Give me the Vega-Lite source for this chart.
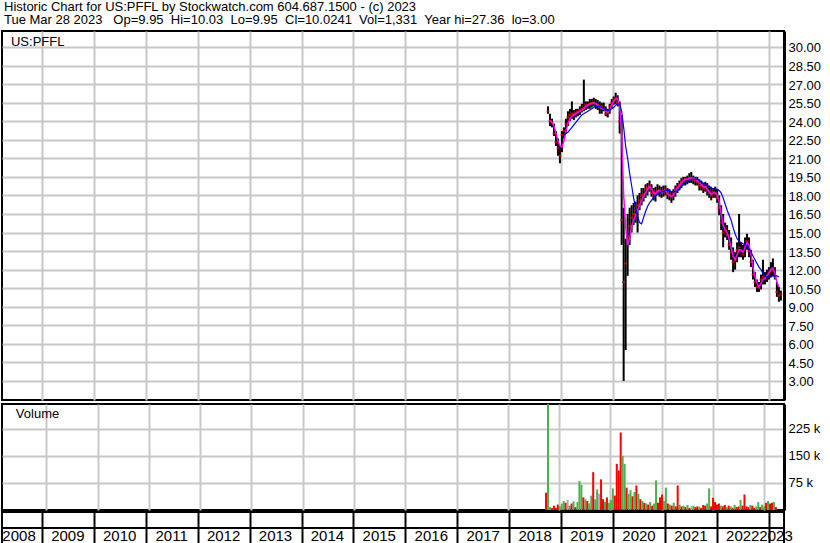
{
 "$schema": "https://vega.github.io/schema/vega-lite/v6.json",
 "padding": 0,
 "background": "white",
 "title": {"text": ["Historic Chart for US:PFFL by Stockwatch.com 604.687.1500 - (c) 2023", "Tue Mar 28 2023\u00a0\u00a0 Op=9.95\u00a0 Hi=10.03\u00a0 Lo=9.95\u00a0 Cl=10.0241\u00a0 Vol=1,331\u00a0 Year hi=27.36\u00a0 lo=3.00"], "anchor": "start", "frame": "group", "font": "Liberation Sans", "fontSize": 13, "fontWeight": "normal", "lineHeight": 13.5, "baseline": "top", "offset": 3, "dx": 2, "color": "black"},
 "datasets": {
  "px": [
   {"d":"2018-10-01","h":25.2,"l":24.6,"c":24.8,"v":48000,"k":"d"},
   {"d":"2018-10-15","h":24.6,"l":23.6,"c":24.0,"m":24.1,"v":330000,"k":"u"},
   {"d":"2018-10-29","h":24.2,"l":23.5,"c":23.9,"m":23.9,"v":8000,"k":"u"},
   {"d":"2018-11-12","h":23.8,"l":22.8,"c":23.0,"m":23.6,"v":5000,"k":"d"},
   {"d":"2018-11-26","h":23.2,"l":22.0,"c":22.3,"m":23.0,"v":12000,"k":"d"},
   {"d":"2018-12-10","h":22.6,"l":21.2,"c":21.8,"m":22.4,"v":6000,"k":"d"},
   {"d":"2018-12-24","h":22.0,"l":20.6,"c":21.2,"m":22.0,"v":15000,"k":"d"},
   {"d":"2019-01-07","h":23.2,"l":21.5,"c":22.9,"m":21.9,"v":10000,"k":"u"},
   {"d":"2019-01-21","h":23.5,"l":22.6,"c":23.2,"m":22.4,"b":22.9,"v":18000,"k":"u"},
   {"d":"2019-02-04","h":24.2,"l":23.0,"c":23.8,"m":23.2,"b":23.0,"v":25000,"k":"u"},
   {"d":"2019-02-18","h":24.8,"l":23.6,"c":24.3,"m":23.8,"b":23.1,"v":20000,"k":"d"},
   {"d":"2019-03-04","h":25.0,"l":24.0,"c":24.5,"m":24.2,"b":23.3,"v":28000,"k":"n"},
   {"d":"2019-03-18","h":25.6,"l":24.2,"c":24.6,"m":24.4,"b":23.5,"v":12000,"k":"u"},
   {"d":"2019-04-01","h":24.9,"l":24.1,"c":24.6,"m":24.5,"b":23.7,"v":18000,"k":"d"},
   {"d":"2019-04-15","h":25.0,"l":24.3,"c":24.7,"m":24.6,"b":23.9,"v":24000,"k":"u"},
   {"d":"2019-04-29","h":25.0,"l":24.4,"c":24.8,"m":24.7,"b":24.1,"v":8000,"k":"d"},
   {"d":"2019-05-13","h":25.2,"l":24.5,"c":24.9,"m":24.8,"b":24.3,"v":22000,"k":"u"},
   {"d":"2019-05-27","h":25.4,"l":24.7,"c":25.0,"m":24.9,"b":24.5,"v":80000,"k":"u"},
   {"d":"2019-06-10","h":27.36,"l":24.8,"c":25.1,"m":25.0,"b":24.6,"v":70000,"k":"u"},
   {"d":"2019-06-24","h":25.6,"l":24.9,"c":25.3,"m":25.2,"b":24.7,"v":35000,"k":"d"},
   {"d":"2019-07-08","h":25.6,"l":25.0,"c":25.3,"m":25.3,"b":24.8,"v":30000,"k":"u"},
   {"d":"2019-07-22","h":25.8,"l":25.0,"c":25.4,"m":25.4,"b":24.9,"v":25000,"k":"d"},
   {"d":"2019-08-05","h":25.8,"l":25.1,"c":25.5,"m":25.4,"b":25.0,"v":18000,"k":"u"},
   {"d":"2019-08-19","h":25.9,"l":25.2,"c":25.5,"m":25.5,"b":25.1,"v":40000,"k":"u"},
   {"d":"2019-09-02","h":25.8,"l":25.0,"c":25.4,"m":25.4,"b":25.2,"v":105000,"k":"d"},
   {"d":"2019-09-16","h":25.7,"l":24.9,"c":25.3,"m":25.3,"b":25.2,"v":30000,"k":"u"},
   {"d":"2019-09-30","h":25.6,"l":24.6,"c":25.1,"m":25.2,"b":25.2,"v":57000,"k":"u"},
   {"d":"2019-10-14","h":25.5,"l":24.6,"c":25.2,"m":25.0,"b":25.1,"v":45000,"k":"n"},
   {"d":"2019-10-28","h":25.5,"l":24.8,"c":25.0,"m":25.0,"b":25.0,"v":85000,"k":"d"},
   {"d":"2019-11-11","h":25.2,"l":24.4,"c":24.6,"m":24.8,"b":24.9,"v":30000,"k":"d"},
   {"d":"2019-11-25","h":25.0,"l":24.3,"c":24.7,"m":24.7,"b":24.9,"v":22000,"k":"u"},
   {"d":"2019-12-09","h":25.4,"l":24.6,"c":25.2,"m":24.9,"b":24.9,"v":35000,"k":"d"},
   {"d":"2019-12-23","h":25.8,"l":25.0,"c":25.5,"m":25.3,"b":25.0,"v":20000,"k":"u"},
   {"d":"2020-01-06","h":26.0,"l":25.3,"c":25.7,"m":25.6,"b":25.1,"v":28000,"k":"u"},
   {"d":"2020-01-20","h":26.3,"l":25.4,"c":25.9,"m":25.8,"b":25.3,"v":60000,"k":"u"},
   {"d":"2020-02-03","h":26.1,"l":25.2,"c":25.5,"m":25.8,"b":25.4,"v":40000,"k":"d"},
   {"d":"2020-02-17","h":25.6,"l":23.0,"c":24.0,"m":25.2,"b":25.4,"v":128000,"k":"d"},
   {"d":"2020-03-02","h":24.5,"l":14.0,"c":16.0,"m":23.0,"b":24.8,"v":110000,"k":"d"},
   {"d":"2020-03-16","h":17.0,"l":3.0,"c":11.0,"m":18.0,"b":23.5,"v":215000,"k":"d"},
   {"d":"2020-03-30","h":14.5,"l":5.5,"c":12.5,"m":15.5,"b":22.0,"v":150000,"k":"u"},
   {"d":"2020-04-13","h":16.5,"l":11.5,"c":14.5,"m":14.0,"b":21.0,"v":128000,"k":"u"},
   {"d":"2020-04-27","h":17.0,"l":14.0,"c":15.5,"m":14.5,"b":19.8,"v":62000,"k":"d"},
   {"d":"2020-05-11","h":17.2,"l":15.0,"c":16.2,"m":15.5,"b":18.8,"v":45000,"k":"u"},
   {"d":"2020-05-25","h":17.4,"l":15.6,"c":16.5,"m":16.0,"b":17.8,"v":55000,"k":"u"},
   {"d":"2020-06-08","h":17.5,"l":15.8,"c":16.8,"m":16.4,"b":17.0,"v":38000,"k":"d"},
   {"d":"2020-06-22","h":18.0,"l":15.0,"c":17.2,"m":16.8,"b":16.3,"v":50000,"k":"u"},
   {"d":"2020-07-06","h":18.2,"l":16.8,"c":17.6,"m":17.2,"b":15.8,"v":68000,"k":"d"},
   {"d":"2020-07-20","h":18.6,"l":17.2,"c":18.0,"m":17.6,"b":15.7,"v":45000,"k":"u"},
   {"d":"2020-08-03","h":18.6,"l":17.5,"c":18.1,"m":17.9,"b":16.2,"v":30000,"k":"d"},
   {"d":"2020-08-17","h":18.9,"l":17.8,"c":18.5,"m":18.2,"b":16.7,"v":25000,"k":"u"},
   {"d":"2020-08-31","h":19.0,"l":18.0,"c":18.6,"m":18.5,"b":17.1,"v":20000,"k":"d"},
   {"d":"2020-09-14","h":19.2,"l":18.3,"c":18.8,"m":18.7,"b":17.4,"v":18000,"k":"u"},
   {"d":"2020-09-28","h":18.9,"l":17.9,"c":18.2,"m":18.5,"b":17.6,"v":15000,"k":"d"},
   {"d":"2020-10-12","h":18.6,"l":17.6,"c":18.0,"m":18.2,"b":17.8,"v":22000,"k":"u"},
   {"d":"2020-10-26","h":18.7,"l":17.5,"c":18.2,"m":18.1,"b":18.0,"v":12000,"k":"d"},
   {"d":"2020-11-09","h":18.9,"l":18.0,"c":18.4,"m":18.3,"b":18.1,"v":18000,"k":"u"},
   {"d":"2020-11-23","h":18.8,"l":17.9,"c":18.3,"m":18.4,"b":18.2,"v":82000,"k":"u"},
   {"d":"2020-12-07","h":18.7,"l":17.8,"c":18.2,"m":18.3,"b":18.3,"v":20000,"k":"d"},
   {"d":"2020-12-21","h":18.8,"l":17.9,"c":18.4,"m":18.3,"b":18.3,"v":35000,"k":"d"},
   {"d":"2021-01-04","h":18.8,"l":18.0,"c":18.5,"m":18.4,"b":18.4,"v":43000,"k":"d"},
   {"d":"2021-01-18","h":18.6,"l":17.7,"c":18.1,"m":18.2,"b":18.4,"v":25000,"k":"u"},
   {"d":"2021-02-01","h":18.5,"l":17.6,"c":18.0,"m":18.0,"b":18.4,"v":62000,"k":"u"},
   {"d":"2021-02-15","h":18.3,"l":17.4,"c":17.9,"m":17.9,"b":18.3,"v":18000,"k":"d"},
   {"d":"2021-03-01","h":18.5,"l":17.6,"c":18.1,"m":18.0,"b":18.3,"v":15000,"k":"u"},
   {"d":"2021-03-15","h":18.8,"l":17.9,"c":18.5,"m":18.3,"b":18.3,"v":12000,"k":"d"},
   {"d":"2021-03-29","h":19.0,"l":18.2,"c":18.7,"m":18.6,"b":18.4,"v":20000,"k":"u"},
   {"d":"2021-04-12","h":19.2,"l":18.4,"c":18.9,"m":18.8,"b":18.5,"v":10000,"k":"d"},
   {"d":"2021-04-26","h":19.4,"l":18.6,"c":19.1,"m":19.0,"b":18.7,"v":68000,"k":"d"},
   {"d":"2021-05-10","h":19.5,"l":18.8,"c":19.2,"m":19.2,"b":18.9,"v":15000,"k":"u"},
   {"d":"2021-05-24","h":19.5,"l":18.8,"c":19.3,"m":19.3,"b":19.0,"v":10000,"k":"d"},
   {"d":"2021-06-07","h":19.6,"l":18.9,"c":19.3,"m":19.3,"b":19.1,"v":12000,"k":"u"},
   {"d":"2021-06-21","h":19.8,"l":19.0,"c":19.4,"m":19.4,"b":19.2,"v":8000,"k":"d"},
   {"d":"2021-07-05","h":19.9,"l":19.0,"c":19.4,"m":19.4,"b":19.3,"v":14000,"k":"u"},
   {"d":"2021-07-19","h":19.6,"l":18.9,"c":19.3,"m":19.4,"b":19.3,"v":6000,"k":"d"},
   {"d":"2021-08-02","h":19.5,"l":18.8,"c":19.2,"m":19.3,"b":19.3,"v":10000,"k":"n"},
   {"d":"2021-08-16","h":19.5,"l":18.8,"c":19.1,"m":19.2,"b":19.3,"v":12000,"k":"u"},
   {"d":"2021-08-30","h":19.3,"l":18.4,"c":18.8,"m":19.0,"b":19.2,"v":8000,"k":"d"},
   {"d":"2021-09-13","h":19.2,"l":18.4,"c":18.8,"m":18.9,"b":19.1,"v":10000,"k":"d"},
   {"d":"2021-09-27","h":19.0,"l":18.2,"c":18.6,"m":18.7,"b":19.0,"v":9000,"k":"u"},
   {"d":"2021-10-11","h":19.1,"l":18.3,"c":18.7,"m":18.7,"b":18.9,"v":6000,"k":"d"},
   {"d":"2021-10-25","h":19.0,"l":18.0,"c":18.4,"m":18.5,"b":18.8,"v":14000,"k":"d"},
   {"d":"2021-11-08","h":18.8,"l":17.8,"c":18.2,"m":18.3,"b":18.7,"v":12000,"k":"d"},
   {"d":"2021-11-22","h":18.7,"l":17.6,"c":18.0,"m":18.1,"b":18.6,"v":18000,"k":"u"},
   {"d":"2021-12-06","h":18.6,"l":17.8,"c":18.3,"m":18.2,"b":18.5,"v":60000,"k":"u"},
   {"d":"2021-12-20","h":18.7,"l":17.8,"c":18.2,"m":18.2,"b":18.5,"v":10000,"k":"d"},
   {"d":"2022-01-03","h":18.5,"l":17.4,"c":17.8,"m":18.0,"b":18.5,"v":34000,"k":"d"},
   {"d":"2022-01-17","h":18.0,"l":16.4,"c":17.0,"m":17.5,"b":18.4,"v":22000,"k":"d"},
   {"d":"2022-01-31","h":17.2,"l":15.2,"c":15.8,"m":16.5,"b":18.2,"v":15000,"k":"d"},
   {"d":"2022-02-14","h":16.5,"l":13.8,"c":15.0,"m":15.6,"b":17.8,"v":18000,"k":"d"},
   {"d":"2022-02-28","h":15.8,"l":14.6,"c":15.2,"m":15.2,"b":17.3,"v":12000,"k":"u"},
   {"d":"2022-03-14","h":15.6,"l":14.4,"c":14.8,"m":15.0,"b":16.8,"v":10000,"k":"d"},
   {"d":"2022-03-28","h":15.2,"l":13.6,"c":14.0,"m":14.5,"b":16.4,"v":14000,"k":"d"},
   {"d":"2022-04-11","h":14.6,"l":12.8,"c":13.4,"m":13.8,"b":16.0,"v":8000,"k":"u"},
   {"d":"2022-04-25","h":13.8,"l":11.8,"c":12.6,"m":13.1,"b":15.4,"v":12000,"k":"d"},
   {"d":"2022-05-09","h":13.4,"l":12.0,"c":12.8,"m":12.8,"b":14.9,"v":10000,"k":"u"},
   {"d":"2022-05-23","h":14.2,"l":12.6,"c":13.6,"m":13.2,"b":14.5,"v":6000,"k":"d"},
   {"d":"2022-06-06","h":16.5,"l":13.0,"c":13.8,"m":13.6,"b":14.3,"v":14000,"k":"u"},
   {"d":"2022-06-20","h":14.2,"l":13.0,"c":13.5,"m":13.6,"b":14.2,"v":8000,"k":"d"},
   {"d":"2022-07-04","h":14.0,"l":12.8,"c":13.2,"m":13.4,"b":14.1,"v":10000,"k":"d"},
   {"d":"2022-07-18","h":14.6,"l":13.0,"c":14.0,"m":13.8,"b":14.0,"v":28000,"k":"u"},
   {"d":"2022-08-01","h":14.9,"l":13.6,"c":14.3,"m":14.2,"b":13.9,"v":12000,"k":"d"},
   {"d":"2022-08-15","h":14.6,"l":13.0,"c":13.5,"m":14.0,"b":13.7,"v":43000,"k":"d"},
   {"d":"2022-08-29","h":13.6,"l":12.2,"c":12.6,"m":13.2,"b":13.4,"v":10000,"k":"d"},
   {"d":"2022-09-12","h":12.8,"l":11.2,"c":11.6,"m":12.2,"b":13.1,"v":8000,"k":"d"},
   {"d":"2022-09-26","h":11.8,"l":10.6,"c":11.0,"m":11.4,"b":12.8,"v":14000,"k":"u"},
   {"d":"2022-10-10","h":11.2,"l":10.2,"c":10.6,"m":10.9,"b":12.5,"v":12000,"k":"d"},
   {"d":"2022-10-24","h":11.0,"l":10.2,"c":10.5,"m":10.6,"b":12.2,"v":6000,"k":"d"},
   {"d":"2022-11-07","h":11.6,"l":10.4,"c":11.2,"m":10.9,"b":12.0,"v":10000,"k":"u"},
   {"d":"2022-11-21","h":12.8,"l":10.8,"c":11.4,"m":11.2,"b":11.7,"v":22000,"k":"u"},
   {"d":"2022-12-05","h":11.8,"l":10.8,"c":11.3,"m":11.3,"b":11.5,"v":8000,"k":"d"},
   {"d":"2022-12-19","h":12.0,"l":11.0,"c":11.5,"m":11.5,"b":11.4,"v":15000,"k":"u"},
   {"d":"2023-01-02","h":12.2,"l":11.2,"c":11.8,"m":11.7,"b":11.4,"v":10000,"k":"u"},
   {"d":"2023-01-16","h":12.6,"l":11.4,"c":12.0,"m":12.0,"b":11.4,"v":20000,"k":"d"},
   {"d":"2023-01-30","h":12.9,"l":11.5,"c":12.1,"m":12.1,"b":11.5,"v":25000,"k":"u"},
   {"d":"2023-02-13","h":12.2,"l":11.2,"c":11.4,"m":11.7,"b":11.5,"v":18000,"k":"d"},
   {"d":"2023-02-27","h":11.0,"l":9.8,"c":10.2,"m":11.0,"b":11.5,"v":20000,"k":"d"},
   {"d":"2023-03-13","h":10.6,"l":9.4,"c":9.9,"m":10.6,"b":11.4,"v":22000,"k":"u"},
   {"d":"2023-03-27","h":10.3,"l":9.5,"c":10.0,"v":8000,"k":"d"}
  ],
  "yr": [
   {"y":"2008","d":"2008-07-24"},{"y":"2009","d":"2009-07-02"},{"y":"2010","d":"2010-07-02"},{"y":"2011","d":"2011-07-02"},
   {"y":"2012","d":"2012-07-02"},{"y":"2013","d":"2013-07-02"},{"y":"2014","d":"2014-07-02"},{"y":"2015","d":"2015-07-02"},
   {"y":"2016","d":"2016-07-02"},{"y":"2017","d":"2017-07-02"},{"y":"2018","d":"2018-07-02"},{"y":"2019","d":"2019-07-02"},
   {"y":"2020","d":"2020-07-02"},{"y":"2021","d":"2021-07-02"},{"y":"2022","d":"2022-07-02"},{"y":"2023","d":"2023-02-21"}
  ]
 },
 "spacing": 2,
 "vconcat": [
  {
   "width": 782, "height": 369,
   "data": {"name": "px"},
   "layer": [
    {"mark": {"type": "rule", "color": "black", "strokeWidth": 2, "clip": true},
     "encoding": {
      "x": {"field": "d", "type": "temporal",
            "scale": {"type": "utc", "domain": [{"year":2008,"month":3,"date":26,"utc":true},{"year":2023,"month":4,"date":18,"utc":true}]},
            "axis": {"values": [{"year":2009,"month":1,"date":1,"utc":true},{"year":2010,"month":1,"date":1,"utc":true},{"year":2011,"month":1,"date":1,"utc":true},{"year":2012,"month":1,"date":1,"utc":true},{"year":2013,"month":1,"date":1,"utc":true},{"year":2014,"month":1,"date":1,"utc":true},{"year":2015,"month":1,"date":1,"utc":true},{"year":2016,"month":1,"date":1,"utc":true},{"year":2017,"month":1,"date":1,"utc":true},{"year":2018,"month":1,"date":1,"utc":true},{"year":2019,"month":1,"date":1,"utc":true},{"year":2020,"month":1,"date":1,"utc":true},{"year":2021,"month":1,"date":1,"utc":true},{"year":2022,"month":1,"date":1,"utc":true},{"year":2023,"month":1,"date":1,"utc":true}],
                     "tickCount": 30, "grid": true, "labels": false, "ticks": false, "domain": false, "title": null}},
      "y": {"field": "l", "type": "quantitative", "scale": {"domain": [1.46, 31.29], "nice": false, "zero": false},
            "axis": {"orient": "right", "values": [3,4.5,6,7.5,9,10.5,12,13.5,15,16.5,18,19.5,21,22.5,24,25.5,27,28.5,30], "tickCount": 40, "format": ".2f", "labelOverlap": false, "grid": true, "ticks": false, "domain": true, "domainColor": "black", "domainWidth": 3, "labelFontSize": 13, "labelColor": "black", "labelPadding": 4, "labelOffset": 1, "title": null}},
      "y2": {"field": "h"}
     }},
    {"mark": {"type": "tick", "orient": "horizontal", "color": "#ff0000", "size": 3, "thickness": 2, "clip": true},
     "encoding": {"x": {"field": "d", "type": "temporal"}, "y": {"field": "c", "type": "quantitative"}}},
    {"mark": {"type": "line", "color": "#ff00ff", "strokeWidth": 1.5, "clip": true},
     "encoding": {"x": {"field": "d", "type": "temporal"}, "y": {"field": "m", "type": "quantitative"}}},
    {"mark": {"type": "line", "color": "#0000ff", "strokeWidth": 1.2, "clip": true},
     "encoding": {"x": {"field": "d", "type": "temporal"}, "y": {"field": "b", "type": "quantitative"}}},
    {"data": {"values": [{"t": "US:PFFL"}]},
     "mark": {"type": "text", "align": "left", "baseline": "middle", "fontSize": 13, "font": "Liberation Sans", "color": "black"},
     "encoding": {"x": {"datum": {"year":2008,"month":5,"date":28,"utc":true}, "type": "temporal"}, "y": {"datum": 30.44}, "text": {"field": "t"}}}
   ]
  },
  {
   "spacing": 0,
   "vconcat": [
    {
     "width": 782, "height": 106,
     "data": {"name": "px"},
     "layer": [
      {"mark": {"type": "bar", "width": 2, "clip": true},
       "encoding": {
        "x": {"field": "d", "type": "temporal",
              "scale": {"type": "utc", "domain": [{"year":2008,"month":3,"date":26,"utc":true},{"year":2023,"month":4,"date":18,"utc":true}]},
              "axis": {"values": [{"year":2009,"month":1,"date":1,"utc":true},{"year":2010,"month":1,"date":1,"utc":true},{"year":2011,"month":1,"date":1,"utc":true},{"year":2012,"month":1,"date":1,"utc":true},{"year":2013,"month":1,"date":1,"utc":true},{"year":2014,"month":1,"date":1,"utc":true},{"year":2015,"month":1,"date":1,"utc":true},{"year":2016,"month":1,"date":1,"utc":true},{"year":2017,"month":1,"date":1,"utc":true},{"year":2018,"month":1,"date":1,"utc":true},{"year":2019,"month":1,"date":1,"utc":true},{"year":2020,"month":1,"date":1,"utc":true},{"year":2021,"month":1,"date":1,"utc":true},{"year":2022,"month":1,"date":1,"utc":true},{"year":2023,"month":1,"date":1,"utc":true}],
                       "tickCount": 30, "grid": true, "labels": false, "ticks": false, "domain": false, "title": null}},
        "y": {"field": "v", "type": "quantitative", "scale": {"domain": [0, 294000], "nice": false},
              "axis": {"orient": "right", "values": [75000, 150000, 225000], "tickCount": 10, "labelExpr": "(datum.value/1000) + ' k'", "labelOverlap": false, "grid": true, "ticks": false, "domain": true, "domainColor": "black", "domainWidth": 3, "labelFontSize": 13, "labelColor": "black", "labelPadding": 4, "title": null}},
        "color": {"field": "k", "type": "nominal", "scale": {"domain": ["u", "d", "n"], "range": ["#4caf50", "#ff0000", "#a8a8a8"]}, "legend": null}
       }},
      {"data": {"values": [{"t": "Volume"}]},
       "mark": {"type": "text", "align": "left", "baseline": "middle", "fontSize": 13, "font": "Liberation Sans", "color": "black"},
       "encoding": {"x": {"datum": {"year":2008,"month":5,"date":28,"utc":true}, "type": "temporal"}, "y": {"datum": 267650}, "text": {"field": "t"}}}
     ]
    },
    {
     "width": 782, "height": 32,
     "data": {"name": "yr"},
     "layer": [
      {"mark": {"type": "text", "align": "center", "baseline": "middle", "fontSize": 15, "font": "Liberation Sans", "color": "black"},
       "encoding": {
        "x": {"field": "d", "type": "temporal",
              "scale": {"type": "utc", "domain": [{"year":2008,"month":3,"date":26,"utc":true},{"year":2023,"month":4,"date":18,"utc":true}]},
              "axis": {"values": [{"year":2009,"month":1,"date":1,"utc":true},{"year":2010,"month":1,"date":1,"utc":true},{"year":2011,"month":1,"date":1,"utc":true},{"year":2012,"month":1,"date":1,"utc":true},{"year":2013,"month":1,"date":1,"utc":true},{"year":2014,"month":1,"date":1,"utc":true},{"year":2015,"month":1,"date":1,"utc":true},{"year":2016,"month":1,"date":1,"utc":true},{"year":2017,"month":1,"date":1,"utc":true},{"year":2018,"month":1,"date":1,"utc":true},{"year":2019,"month":1,"date":1,"utc":true},{"year":2020,"month":1,"date":1,"utc":true},{"year":2021,"month":1,"date":1,"utc":true},{"year":2022,"month":1,"date":1,"utc":true},{"year":2023,"month":1,"date":1,"utc":true}],
                       "tickCount": 30, "grid": true, "gridColor": "black", "gridWidth": 2, "labels": false, "ticks": false, "domain": false, "title": null}},
        "y": {"datum": 0.5, "scale": {"domain": [0, 2], "nice": false}, "axis": null},
        "text": {"field": "y"}
       }},
      {"mark": {"type": "rule", "color": "black", "strokeWidth": 2},
       "encoding": {"y": {"datum": 1}}}
     ]
    }
   ]
  }
 ],
 "config": {
  "view": {"stroke": "black", "strokeWidth": 2},
  "font": "Liberation Sans",
  "axis": {"labelFont": "Liberation Sans", "gridColor": "#c8c8c8", "gridWidth": 2, "gridOpacity": 1, "labelOverlap": false}
 }
}
